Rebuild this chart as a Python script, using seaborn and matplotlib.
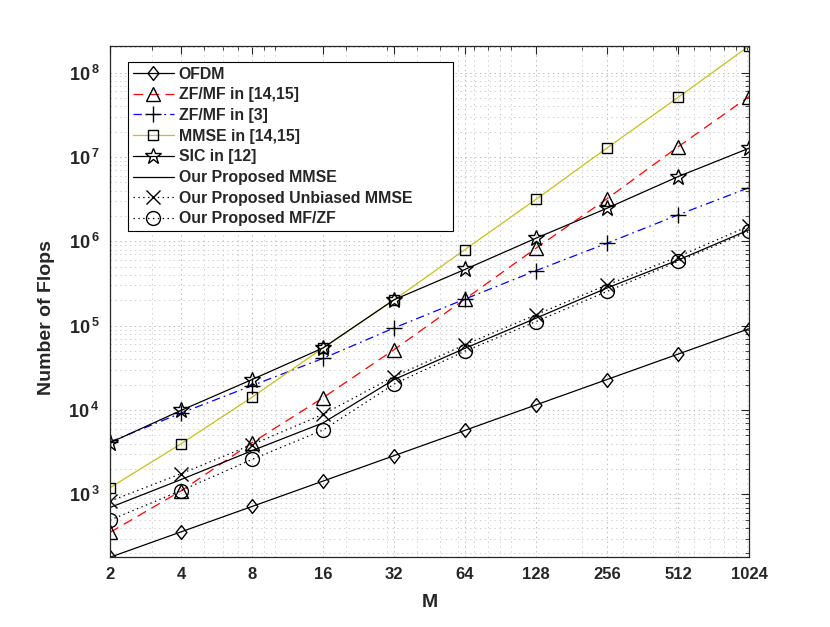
import numpy as np
import matplotlib
matplotlib.use("Agg")
import matplotlib.pyplot as plt
from matplotlib.ticker import LogLocator, FixedLocator, FixedFormatter, NullFormatter
import seaborn as sns

# values (log-log)
M = [2, 4, 8, 16, 32, 64, 128, 256, 512, 1024]
ofdm = [180, 360, 720, 1440, 2880, 5760, 11520, 23040, 46080, 92160]
zf_mf_1415 = [355, 1100, 4100, 1.4e4, 5.2e4, 2.07e5, 8.3e5, 3.2e6, 1.32e7, 5.2e7]
zf_mf_3 = [4200, 9200, 1.95e4, 4.1e4, 9.4e4, 2.07e5, 4.5e5, 9.5e5, 2.06e6, 4.33e6]
mmse_1415 = [1200, 3980, 1.42e4, 5.45e4, 2.02e5, 8.0e5, 3.15e6, 1.28e7, 5.08e7, 2.07e8]
sic_12 = [4100, 9.9e3, 2.3e4, 5.45e4, 2.03e5, 4.65e5, 1.09e6, 2.47e6, 5.85e6, 1.27e7]
prop_mmse = [700, 1500, 3300, 7050, 2.3e4, 5.4e4, 1.23e5, 2.8e5, 6.0e5, 1.37e6]
prop_unbiased = [833, 1760, 3900, 8900, 2.5e4, 5.96e4, 1.35e5, 3.05e5, 6.6e5, 1.52e6]
prop_mfzf = [497, 1110, 2600, 5800, 2.03e4, 5.0e4, 1.12e5, 2.55e5, 5.77e5, 1.31e6]

sns.set_style("white")
plt.rcParams["font.family"] = ["Liberation Sans", "DejaVu Sans"]
plt.rcParams["font.weight"] = "bold"
plt.rcParams["mathtext.fontset"] = "custom"
plt.rcParams["mathtext.rm"] = "Liberation Sans"
plt.rcParams["mathtext.bf"] = "Liberation Sans:bold"
plt.rcParams["lines.scale_dashes"] = False

ink = "#262626"
diamond = [(0, 1), (0.78, 0), (0, -1), (-0.78, 0), (0, 1)]

series = [
    ("OFDM", ofdm, "black", "-", diamond, 10),
    ("ZF/MF in [14,15]", zf_mf_1415, "#ff0000", (0, (7, 4.5)), "^", 10),
    ("ZF/MF in [3]", zf_mf_3, "#0000ff", (0, (6, 3, 1.2, 3)), "+", 11),
    ("MMSE in [14,15]", mmse_1415, "#c4c020", "-", "s", 6.5),
    ("SIC in [12]", sic_12, "black", "-", "*", 12),
    ("Our Proposed MMSE", prop_mmse, "black", "-", None, 0),
    ("Our Proposed Unbiased MMSE", prop_unbiased, "black", (0, (1, 2.5)), "x", 10),
    ("Our Proposed MF/ZF", prop_mfzf, "black", (0, (1, 2.5)), "o", 10),
]

fig = plt.figure(figsize=(8.3, 6.27), dpi=100)
ax = fig.add_axes([0.1325, 0.1112, 0.77, 0.8155])

for label, vals, color, ls, mk, ms in series:
    kw = dict(marker=mk, markersize=ms, markerfacecolor="none",
              markeredgecolor="black", markeredgewidth=1.0) if mk else dict(marker=None)
    sns.lineplot(x=M, y=vals, ax=ax, color=color, linestyle=ls, linewidth=0.9,
                 label=label, **kw)

ax.set_xscale("log")
ax.set_yscale("log")
ax.set_xlim(M[0], M[-1])
all_vals = np.concatenate([ofdm, zf_mf_1415, zf_mf_3, mmse_1415, sic_12,
                           prop_mmse, prop_unbiased, prop_mfzf])
ax.set_ylim(all_vals.min(), all_vals.max())

ax.xaxis.set_major_locator(FixedLocator(M))
ax.xaxis.set_major_formatter(FixedFormatter([str(m) for m in M]))
ax.xaxis.set_minor_locator(LogLocator(base=10, subs=np.arange(1, 10), numticks=50))
ax.xaxis.set_minor_formatter(NullFormatter())

decades = [1e3, 1e4, 1e5, 1e6, 1e7, 1e8]
ax.yaxis.set_major_locator(FixedLocator(decades))
ax.yaxis.set_major_formatter(FixedFormatter(
    [r"$\mathbf{10}^{\,\mathbf{%d}}$" % int(np.log10(d)) for d in decades]))
ax.yaxis.set_minor_locator(LogLocator(base=10, subs=np.arange(2, 10), numticks=50))
ax.yaxis.set_minor_formatter(NullFormatter())

ax.grid(True, which="major", color="#b8b8b8", linestyle=(0, (1, 2.5)), linewidth=0.7)
ax.grid(True, which="minor", color="#c8c8c8", linestyle=(0, (1, 2.5)), linewidth=0.6)
ax.set_axisbelow(True)

ax.tick_params(which="both", direction="in", top=True, right=True, colors=ink,
               labelcolor=ink, labelsize=12)
ax.tick_params(which="major", length=6, width=0.8)
ax.tick_params(which="minor", length=3, width=0.6)
ax.tick_params(axis="x", which="major", pad=7)
ax.tick_params(axis="y", which="major", pad=7.5, labelsize=13)
for s in ax.spines.values():
    s.set_color(ink)
    s.set_linewidth(0.9)

ax.set_xlabel("M", fontsize=14, fontweight="bold", color=ink)
ax.set_ylabel("Number of Flops", fontsize=14, fontweight="bold", color=ink)
ax.xaxis.set_label_coords(0.5, -0.072)
ax.yaxis.set_label_coords(-0.086, 0.468)

leg = ax.legend(loc="upper left", bbox_to_anchor=(0.028, 0.5, 0.5086, 0.469),
                mode="expand", borderaxespad=0,
                fancybox=False, framealpha=1, edgecolor="black",
                prop={"size": 11.4, "weight": "bold"}, handlelength=2.6,
                handletextpad=0.3, labelspacing=0.36, borderpad=0.3)
leg.get_frame().set_linewidth(0.8)

fig.savefig("out.png", dpi=100, facecolor="white")
